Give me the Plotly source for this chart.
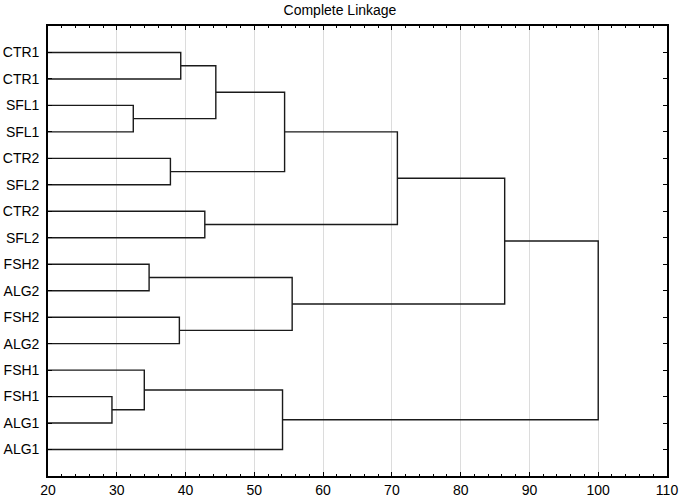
import plotly.graph_objects as go

# Leaf labels in display order (top to bottom)
labels = ["CTR1", "CTR1", "SFL1", "SFL1", "CTR2", "SFL2", "CTR2", "SFL2",
          "FSH2", "ALG2", "FSH2", "ALG2", "FSH1", "FSH1", "ALG1", "ALG1"]

# Linkage: cluster ids 0..15 are leaves, new clusters numbered from 16
merge_left = [0, 2, 16, 4, 18, 6, 20, 8, 10, 23, 22, 13, 12, 28, 26]
merge_right = [1, 3, 17, 5, 19, 7, 21, 9, 11, 24, 25, 14, 27, 15, 29]
merge_height = [39.3, 32.4, 44.4, 37.8, 54.4, 42.8, 70.8, 34.7, 39.1, 55.5,
                86.4, 29.3, 34.0, 54.1, 100.0]

x_ticks = [20, 30, 40, 50, 60, 70, 80, 90, 100, 110]

n = len(labels)
pos_y = {i: i + 1 for i in range(n)}
pos_x = {i: 0.0 for i in range(n)}

xs, ys = [], []
for k, (a, b, h) in enumerate(zip(merge_left, merge_right, merge_height)):
    cid = n + k
    xs += [pos_x[a], h, h, pos_x[b], None]
    ys += [pos_y[a], pos_y[a], pos_y[b], pos_y[b], None]
    pos_x[cid] = h
    pos_y[cid] = (pos_y[a] + pos_y[b]) / 2

fig = go.Figure()
fig.add_trace(go.Scatter(x=xs, y=ys, mode="lines",
                         line=dict(color="#1a1a1a", width=1.4),
                         hoverinfo="skip", showlegend=False))

font_family = "Liberation Sans, Arial, sans-serif"
fig.update_layout(
    width=680, height=499,
    margin=dict(l=48, r=13, t=26, b=23, autoexpand=False),
    paper_bgcolor="white", plot_bgcolor="white",
    font=dict(family=font_family, size=14, color="black"),
    title=dict(text="Complete Linkage", x=0.5, xref="container", xanchor="center",
               y=1 - 10 / 499, yref="container", yanchor="middle",
               font=dict(size=14, color="black")),
    xaxis=dict(range=[x_ticks[0], x_ticks[-1]], tickvals=x_ticks,
               ticktext=[str(t) for t in x_ticks], automargin=False,
               ticks="inside", ticklen=4, tickcolor="black", tickwidth=1,
               minor=dict(dtick=2, ticks="inside", ticklen=2, tickcolor="black", showgrid=False),
               showline=True, linecolor="black", linewidth=1.6, mirror="ticks",
               showgrid=True, gridcolor="#dcdcdc", gridwidth=1, zeroline=False,
               tickfont=dict(size=14)),
    yaxis=dict(range=[n + 1, 0], tickvals=list(range(1, n + 1)), ticktext=labels,
               automargin=False, ticklabelstandoff=4,
               ticks="inside", ticklen=4, tickcolor="black",
               showline=True, linecolor="black", linewidth=1.6, mirror="ticks",
               showgrid=False, zeroline=False, tickfont=dict(size=14)),
)

fig.write_html("out.html", config={"displayModeBar": False},
               post_script="document.body.style.margin='0';document.body.style.padding='0';")
